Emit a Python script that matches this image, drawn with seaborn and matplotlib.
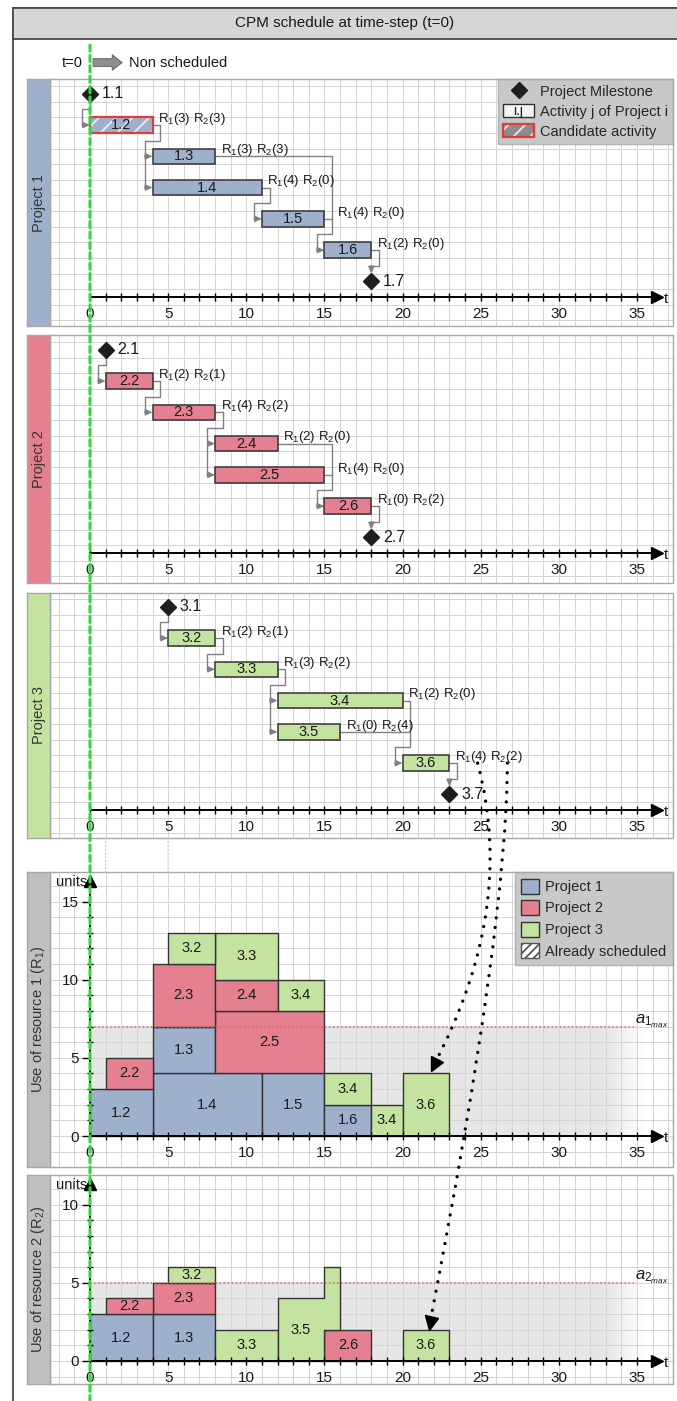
import matplotlib
matplotlib.use("Agg")
import numpy as np
import pandas as pd
import seaborn as sns
import matplotlib.pyplot as plt
from matplotlib.patches import Rectangle, Patch, ConnectionPatch
from matplotlib.lines import Line2D
from matplotlib.text import Text
from matplotlib.markers import MarkerStyle
from matplotlib.transforms import Affine2D
from matplotlib.legend_handler import HandlerPatch, HandlerTuple

# ---------------- values ----------------
project_names = ["Project 1", "Project 2", "Project 3"]
project_colors = ["#9fb0cd", "#e4808f", "#c4e2a0"]

p1_ids = ["1.2", "1.3", "1.4", "1.5", "1.6"]
p1_start = [0, 4, 4, 11, 15]
p1_end = [4, 8, 11, 15, 18]
p1_r1 = [3, 3, 4, 4, 2]
p1_r2 = [3, 3, 0, 0, 0]
p1_milestones = ["1.1", "1.7"]
p1_milestone_t = [0, 18]
p1_links = [(["1.1"], ["1.2"]), (["1.2"], ["1.3", "1.4"]), (["1.4"], ["1.5"]),
            (["1.3", "1.5"], ["1.6"]), (["1.6"], ["1.7"])]

p2_ids = ["2.2", "2.3", "2.4", "2.5", "2.6"]
p2_start = [1, 4, 8, 8, 15]
p2_end = [4, 8, 12, 15, 18]
p2_r1 = [2, 4, 2, 4, 0]
p2_r2 = [1, 2, 0, 0, 2]
p2_milestones = ["2.1", "2.7"]
p2_milestone_t = [1, 18]
p2_links = [(["2.1"], ["2.2"]), (["2.2"], ["2.3"]), (["2.3"], ["2.4", "2.5"]),
            (["2.4", "2.5"], ["2.6"]), (["2.6"], ["2.7"])]

p3_ids = ["3.2", "3.3", "3.4", "3.5", "3.6"]
p3_start = [5, 8, 12, 12, 20]
p3_end = [8, 12, 20, 16, 23]
p3_r1 = [2, 3, 2, 0, 4]
p3_r2 = [1, 2, 0, 4, 2]
p3_milestones = ["3.1", "3.7"]
p3_milestone_t = [5, 23]
p3_links = [(["3.1"], ["3.2"]), (["3.2"], ["3.3"]), (["3.3"], ["3.4", "3.5"]),
            (["3.4", "3.5"], ["3.6"]), (["3.6"], ["3.7"])]

candidate_ids = ["1.2"]
resource_limits = [7, 5]          # a1max, a2max
time_ticks = [0, 5, 10, 15, 20, 25, 30, 35]
r1_ticks = [0, 5, 10, 15]
r2_ticks = [0, 5, 10]

projects = [
    (p1_ids, p1_start, p1_end, p1_r1, p1_r2, p1_milestones, p1_milestone_t, p1_links),
    (p2_ids, p2_start, p2_end, p2_r1, p2_r2, p2_milestones, p2_milestone_t, p2_links),
    (p3_ids, p3_start, p3_end, p3_r1, p3_r2, p3_milestones, p3_milestone_t, p3_links),
]

acts = pd.concat([
    pd.DataFrame({"id": p[0], "start": p[1], "end": p[2], "r1": p[3], "r2": p[4], "project": i})
    for i, p in enumerate(projects)], ignore_index=True)
acts["dur"] = acts["end"] - acts["start"]

# ---------------- style ----------------
sns.set_theme(style="white")
plt.rcParams["font.family"] = ["Liberation Sans", "DejaVu Sans"]
plt.rcParams["mathtext.fontset"] = "custom"
plt.rcParams["mathtext.rm"] = "Liberation Sans"
plt.rcParams["mathtext.it"] = "Liberation Sans:italic"
plt.rcParams["mathtext.bf"] = "Liberation Sans:bold"
plt.rcParams["hatch.linewidth"] = 1.3
palette = sns.color_palette(project_colors)

W, H = 677, 1401
UNIT = 15.63            # px per time unit (square grid)
X_T0 = 90               # px column of t = 0
PANEL_L, STRIP_R, PANEL_R = 27, 50, 673
T_END = 36.25
GRID_C = "#d4d4d4"
EDGE_C = "#333333"
LINK_C = "#808080"
TXT_C = "#1a1a1a"

fig = plt.figure(figsize=(W / 100, H / 100), dpi=100)


def fig_box(x0, y0, x1, y1):
    return [x0 / W, 1 - y1 / H, (x1 - x0) / W, (y1 - y0) / H]


def make_panel(top, bottom, axis_y, strip_color, label, half_grid):
    ax = fig.add_axes(fig_box(STRIP_R, top, PANEL_R, bottom))
    x_lo, x_hi = (STRIP_R - X_T0) / UNIT, (PANEL_R - X_T0) / UNIT
    y_lo, y_hi = (axis_y - bottom) / UNIT, (axis_y - top) / UNIT
    ax.set_xlim(x_lo, x_hi)
    ax.set_ylim(y_lo, y_hi)
    ax.set_facecolor("white")
    off = 0.5 if half_grid else 0.0
    ax.vlines(np.arange(np.ceil(x_lo), x_hi), y_lo, y_hi, color=GRID_C, lw=0.7, zorder=0.3)
    ax.hlines(np.arange(np.ceil(y_lo - off) + off, y_hi), x_lo, x_hi, color=GRID_C, lw=0.7, zorder=0.3)
    ax.add_patch(Rectangle((0, 0), 1, 1, transform=ax.transAxes, fill=False,
                           ec="#a8a8a8", lw=1, clip_on=False, zorder=7))
    sax = fig.add_axes(fig_box(PANEL_L, top, STRIP_R, bottom))
    sax.set_facecolor(strip_color)
    sax.set_xticks([])
    sax.set_yticks([])
    for sp in sax.spines.values():
        sp.set_color("#a8a8a8")
        sp.set_linewidth(1)
    sax.text(0.5, 0.5, label, rotation=90, ha="center", va="center",
             transform=sax.transAxes, fontsize=10.5, color="#333333")
    # time axis with arrow
    for s in ("top", "right", "left"):
        ax.spines[s].set_visible(False)
    sp = ax.spines["bottom"]
    sp.set_position(("data", 0))
    sp.set_bounds(0, T_END)
    sp.set_color("black")
    sp.set_linewidth(1.4)
    sp.set_zorder(5)
    ax.set_xticks(time_ticks)
    ax.set_xticks(np.arange(0, 36), minor=True)
    ax.tick_params(axis="x", which="both", bottom=True, direction="inout", length=6,
                   width=1, color="black", labelsize=11, labelcolor=TXT_C, pad=4.5)
    ax.xaxis.set_zorder(5)
    ax.set_yticks([])
    ax.plot([T_END], [0], marker=">", color="black", ms=9, clip_on=False, zorder=6)
    ax.text(T_END + 0.45, -0.1, "t", fontsize=11, va="center", color=TXT_C)
    return ax


def link_arrow(ax, xy_from, xy_to):
    ax.annotate("", xy=xy_to, xytext=xy_from, annotation_clip=False,
                arrowprops=dict(arrowstyle="-|>,head_length=0.4,head_width=0.18",
                                color=LINK_C, lw=1, shrinkA=0, shrinkB=0, mutation_scale=10),
                zorder=2)


def draw_gantt(ax, proj, color):
    ids, starts, ends, r1, r2, ms_ids, ms_t, links = proj
    order = [ms_ids[0]] + ids + [ms_ids[1]]
    row = {k: 13 - 2 * i for i, k in enumerate(order)}
    t_in = dict(zip(ids, starts))
    t_out = dict(zip(ids, ends))
    for m, t in zip(ms_ids, ms_t):
        t_in[m] = t_out[m] = t
    label_x = {a: e + 0.35 for a, e in zip(ids, ends)}

    for preds, succs in links:
        if preds[0] in ms_ids:
            x_v = t_out[preds[0]]
            y_top = row[preds[0]] - 0.45
        else:
            x_v = max(t_out[p] for p in preds) + 0.5
            y_top = max(row[p] for p in preds)
            for p in preds:
                ax.plot([t_out[p], x_v], [row[p], row[p]], color=LINK_C, lw=1, zorder=2)
                if row[p] < y_top and x_v - t_out[p] < 1:
                    label_x[p] = x_v + 0.3
        jog = row[succs[0]] + 1
        if succs[0] in ms_ids:
            x_in = t_in[succs[0]]
            ax.plot([x_v, x_v, x_in], [y_top, jog, jog], color=LINK_C, lw=1, zorder=2)
            link_arrow(ax, (x_in, jog), (x_in, row[succs[0]] + 0.5))
        else:
            x_in = min(t_in[s] for s in succs) - 0.5
            y_bot = min(row[s] for s in succs)
            ax.plot([x_v, x_v, x_in, x_in], [y_top, jog, jog, y_bot], color=LINK_C, lw=1, zorder=2)
            for s in succs:
                link_arrow(ax, (x_in, row[s]), (t_in[s], row[s]))

    rows = [row[a] for a in ids]
    widths = [e - s for s, e in zip(starts, ends)]
    ax.barh(rows, widths, left=starts, height=1, color=color, edgecolor=EDGE_C, lw=1.1, zorder=3)
    for a, s, w in zip(ids, starts, widths):
        if a in candidate_ids:
            ax.barh(row[a], w, left=s, height=1, color=color, edgecolor="#e9edf4",
                    hatch="//", lw=0, zorder=3.1)
            ax.barh(row[a], w, left=s, height=1, fill=False, edgecolor="#e23b3b", lw=1.6, zorder=3.2)
        ax.text(s + w / 2, row[a], a, ha="center", va="center", fontsize=10.5, color=TXT_C, zorder=4)
    for a, q1, q2 in zip(ids, r1, r2):
        ax.text(label_x[a], row[a] + 0.2, f"R$_1$({q1}) R$_2$({q2})", fontsize=9.5,
                va="baseline", color=TXT_C, zorder=4)
    ax.plot(ms_t, [row[m] for m in ms_ids], ls="none", marker="D", ms=8, color="#1e1e1e", zorder=4)
    for m, t in zip(ms_ids, ms_t):
        ax.text(t + 0.75, row[m], m, va="center", fontsize=11.5, color=TXT_C, zorder=4)
    return row, label_x


def draw_resource(ax, key, limit, ticks, y_end):
    # y axis with arrow
    sp = ax.spines["left"]
    sp.set_visible(True)
    sp.set_position(("data", 0))
    sp.set_bounds(0, y_end)
    sp.set_color("black")
    sp.set_linewidth(1.4)
    sp.set_zorder(5)
    ax.set_yticks(ticks)
    ax.set_yticks(np.arange(0, y_end), minor=True)
    ax.tick_params(axis="y", which="major", left=True, direction="out", length=6, width=1,
                   color="black", labelsize=11, labelcolor=TXT_C, pad=2)
    ax.tick_params(axis="y", which="minor", left=True, direction="inout", length=4, width=1,
                   color="black")
    ax.yaxis.set_zorder(5)
    ax.plot([0], [y_end], marker="^", color="black", ms=9, clip_on=False, zorder=6)
    ax.text(-0.2, y_end - 0.05, "units", ha="right", va="center", fontsize=10.5, color=TXT_C)

    # capacity band, fading out on the right
    xs = np.linspace(0, 35.5, 256)
    grad = np.ones((1, 256, 4))
    grad[..., :3] = 0.905
    grad[0, :, 3] = np.clip((35.5 - xs) / 2.5, 0, 1)
    ax.imshow(grad, extent=[0, 35.5, 0, limit], aspect="auto", zorder=0.2, interpolation="bilinear")
    ax.hlines(limit, 0, 35, colors="#e06060", linestyles=":", lw=1.1, zorder=4)

    # stacked usage per time unit
    usage = np.zeros(40)
    stacked = acts.sort_values(["project", "dur"], ascending=[True, False], kind="stable")
    for _, a in stacked.iterrows():
        h = a[key]
        if h == 0:
            continue
        s, e = int(a["start"]), int(a["end"])
        base = usage[s:e].copy()
        usage[s:e] += h
        segs, seg0 = [], s
        for t in range(s + 1, e + 1):
            if t == e or base[t - s] != base[t - s - 1]:
                segs.append((seg0, t, base[seg0 - s]))
                seg0 = t
        chains = [[segs[0]]]
        for seg in segs[1:]:
            prev = chains[-1][-1]
            if seg[2] < prev[2] + h and prev[2] < seg[2] + h:
                chains[-1].append(seg)
            else:
                chains.append([seg])
        color = palette[int(a["project"])]
        for ch in chains:
            xs_c = [c[0] for c in ch] + [ch[-1][1]]
            lo = [c[2] for c in ch] + [ch[-1][2]]
            hi = [c[2] + h for c in ch] + [ch[-1][2] + h]
            ax.fill_between(xs_c, lo, hi, step="post", facecolor=color, edgecolor=EDGE_C,
                            lw=1, zorder=3)
        for s0, e0, b in segs:
            if e0 - s0 >= 2:
                ax.text((s0 + e0) / 2, b + h / 2, a["id"], ha="center", va="center",
                        fontsize=10.5, color=TXT_C, zorder=4)


# ---------------- figure frame & title ----------------
fig.add_artist(Rectangle((13 / W, -0.01), 1.0, 1 - 8 / H + 0.01, transform=fig.transFigure,
                         fill=False, ec="#4a4a4a", lw=1.3))
fig.add_artist(Rectangle((13 / W, 1 - 39 / H), 1.0, 31 / H, transform=fig.transFigure,
                         fc="#d6d6d6", ec="#4a4a4a", lw=1.3))
fig.text(345 / W, 1 - 23 / H, "CPM schedule at time-step (t=0)", ha="center", va="center",
         fontsize=11, color=TXT_C)

# ---------------- project panels ----------------
gantt_boxes = [(79, 326, 297), (335, 583, 553), (593, 838, 810)]
gantt_axes, gantt_rows, gantt_labels = [], [], []
for i, (top, bot, axy) in enumerate(gantt_boxes):
    ax = make_panel(top, bot, axy, palette[i], project_names[i], half_grid=True)
    r, lx = draw_gantt(ax, projects[i], palette[i])
    gantt_axes.append(ax)
    gantt_rows.append(r)
    gantt_labels.append(lx)

ax1 = gantt_axes[0]
ax1.text(-0.45, 15, "t=0", ha="right", va="center", fontsize=10.5, color=TXT_C)
ax1.annotate("", xy=(2.05, 15), xytext=(0.2, 15), annotation_clip=False,
             arrowprops=dict(arrowstyle="simple,head_length=0.7,head_width=1.1,tail_width=0.55",
                             fc="#8f8f8f", ec="#6a6a6a", lw=0.8, shrinkA=0, shrinkB=0,
                             mutation_scale=10))
ax1.text(2.5, 15, "Non scheduled", ha="left", va="center", fontsize=10.5, color=TXT_C)


class IJPatch(Patch):
    pass


class IJHandler(HandlerPatch):
    def create_artists(self, legend, orig_handle, xdescent, ydescent, width, height, fontsize, trans):
        r = Rectangle((-xdescent, -ydescent), width, height, fc="#f4f4f4", ec=EDGE_C, lw=1,
                      transform=trans)
        t = Text(-xdescent + width / 2, -ydescent + height / 2, "i.j", ha="center", va="center",
                 fontsize=fontsize * 0.95, color=TXT_C, transform=trans)
        return [r, t]


leg_handles = [
    Line2D([], [], ls="none", marker="D", ms=8, color="#1e1e1e"),
    IJPatch(),
    (Patch(fc="#8c8c8c", ec="#e9e9e9", hatch="//", lw=0), Patch(fill=False, ec="#e23b3b", lw=1.6)),
]
ax1.legend(leg_handles, ["Project Milestone", "Activity j of Project i", "Candidate activity"],
           handler_map={IJPatch: IJHandler(), tuple: HandlerTuple(ndivide=1, pad=0)},
           loc="upper right", bbox_to_anchor=(1, 1), borderaxespad=0, fontsize=10.5,
           handlelength=2.1, handleheight=1.0, labelspacing=0.38, handletextpad=0.4,
           borderpad=0.35, fancybox=False, framealpha=1, facecolor="#c8c8c8",
           edgecolor="#b0b0b0")

# ---------------- resource panels ----------------
axR1 = make_panel(872, 1167, 1136, "#bfbfbf", "Use of resource 1 (R$_1$)", half_grid=False)
draw_resource(axR1, "r1", resource_limits[0], r1_ticks, 16.3)
axR1.text(34.9, resource_limits[0] + 0.35, r"$a_{1_{max}}$", fontsize=12, va="center", color=TXT_C)
axR1.legend([Patch(fc=c, ec=EDGE_C, lw=1) for c in palette] +
            [Patch(fc="white", ec="#555555", hatch="////", lw=1)],
            project_names + ["Already scheduled"], loc="upper right", bbox_to_anchor=(1, 1),
            borderaxespad=0, fontsize=10.5, handlelength=1.2, handleheight=1.2,
            labelspacing=0.42, handletextpad=0.45, borderpad=0.45, fancybox=False,
            framealpha=1, facecolor="#c8c8c8", edgecolor="#b0b0b0")

axR2 = make_panel(1175, 1384, 1361, "#bfbfbf", "Use of resource 2 (R$_2$)", half_grid=False)
draw_resource(axR2, "r2", resource_limits[1], r2_ticks, 11.3)
axR2.text(34.9, resource_limits[1] + 0.35, r"$a_{2_{max}}$", fontsize=12, va="center", color=TXT_C)

# ---------------- cross-panel connectors ----------------
ax3 = gantt_axes[2]
y3_lo = ax3.get_ylim()[0]
yR1_hi = axR1.get_ylim()[1]
for t in (p2_milestone_t[0], p3_milestone_t[0]):
    fig.add_artist(ConnectionPatch(xyA=(t, y3_lo), coordsA=ax3.transData,
                                   xyB=(t, yR1_hi), coordsB=axR1.transData,
                                   color="#cfcfcf", lw=1, ls=":", annotation_clip=False))

# green "now" line at t = 0
fig.add_artist(ConnectionPatch(xyA=(0, (297 - 45) / UNIT), coordsA=ax1.transData,
                               xyB=(0, (1361 - 1401) / UNIT), coordsB=axR2.transData,
                               color="#33d633", lw=2.2, ls=(0, (2, 1.4)),
                               annotation_clip=False, zorder=8))


def dotted_arrow(ax_from, xy_from, ax_to, xy_to, ang_a, ang_b):
    fig.add_artist(ConnectionPatch(xyA=xy_from, coordsA=ax_from.transData,
                                   xyB=xy_to, coordsB=ax_to.transData,
                                   arrowstyle="-", lw=2.4, ls=(0, (0.01, 2.9)),
                                   capstyle="round", color="black", shrinkA=0, shrinkB=0,
                                   connectionstyle=f"angle3,angleA={ang_a},angleB={ang_b}",
                                   annotation_clip=False, zorder=9))
    head = MarkerStyle(">", transform=Affine2D().rotate_deg(ang_b))
    ax_to.plot([xy_to[0]], [xy_to[1]], ls="none", marker=head, ms=10, color="black",
               clip_on=False, zorder=9)


# dotted arrows from activity 3.6's demand to its resource blocks
i36 = p3_ids.index("3.6")
row36 = gantt_rows[2]["3.6"]
lx36 = gantt_labels[2]["3.6"]
dotted_arrow(ax3, (lx36 + 1.45, row36), axR1, (p3_start[i36] + 2.0, p3_r1[i36] + 0.55), -75, -118)
dotted_arrow(ax3, (lx36 + 3.35, row36), axR2, (p3_start[i36] + 1.75, p3_r2[i36] + 0.45), -90, -101)

fig.savefig("out.png", dpi=100)
